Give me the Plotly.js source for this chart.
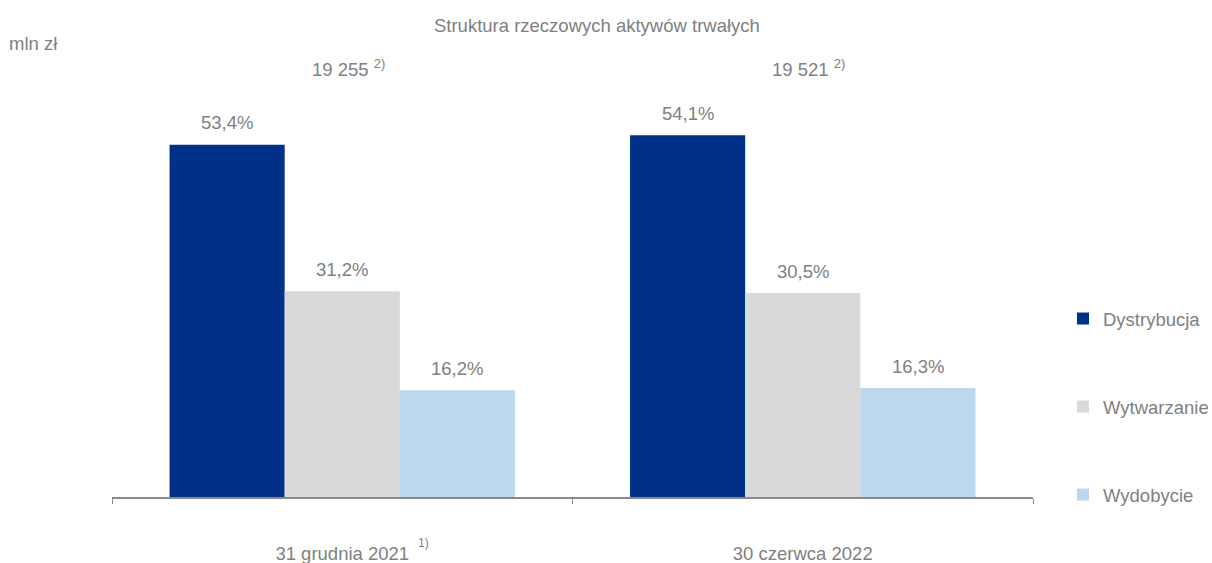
<!DOCTYPE html>
<html>
<head>
<meta charset="utf-8">
<script src="https://cdn.plot.ly/plotly-3.0.1.min.js"></script>
<style>
  html, body { margin: 0; padding: 0; background: #fff; }
  #chart { width: 1212px; height: 563px; }
</style>
</head>
<body>
<div id="chart"></div>
<script>
// Data (mln zł) and labels
const categories = ["31 grudnia 2021", "30 czerwca 2022"];
const categoryNotes = ["1)", ""];
const totals = ["19 255", "19 521"];
const seriesNames = ["Dystrybucja", "Wytwarzanie", "Wydobycie"];
const dystrybucja = [10282, 10561];
const wytwarzanie = [6008, 5954];
const wydobycie = [3119, 3182];
const pctDystrybucja = ["53,4%", "54,1%"];
const pctWytwarzanie = ["31,2%", "30,5%"];
const pctWydobycie = ["16,2%", "16,3%"];

const colors = ["#003087", "#D9D9D9", "#BDD7EE"];
const textColor = "#808080";
const FONT = "Liberation Sans, Arial, sans-serif";
const FS = 18.5;

const values = [dystrybucja, wytwarzanie, wydobycie];
const pcts = [pctDystrybucja, pctWytwarzanie, pctWydobycie];

const traces = seriesNames.map((name, i) => ({
  type: "bar",
  name: name,
  x: categories,
  y: values[i],
  marker: { color: colors[i], line: { width: 0 } },
  legendgroup: "g" + i,
  hoverinfo: "skip"
}));

const annotations = [];
const offsets = [-0.25, 0, 0.25];
categories.forEach((c, ci) => {
  values.forEach((vals, si) => {
    annotations.push({
      xref: "x", yref: "y",
      x: ci + offsets[si], y: vals[ci],
      text: pcts[si][ci],
      showarrow: false,
      yanchor: "middle",
      yshift: 22,
      font: { family: FONT, size: FS, color: textColor }
    });
  });
  annotations.push({
    xref: "x", yref: "paper",
    x: ci, y: 1.0,
    text: totals[ci] + " <sup>2)</sup>",
    showarrow: false,
    yanchor: "middle",
    xshift: 6,
    yshift: 18,
    font: { family: FONT, size: FS, color: textColor }
  });
  if (categoryNotes[ci]) {
    annotations.push({
      xref: "x", yref: "paper",
      x: ci, y: 0,
      text: categoryNotes[ci],
      showarrow: false,
      xanchor: "center", yanchor: "middle",
      xshift: 81, yshift: -46,
      font: { family: FONT, size: 12, color: textColor }
    });
  }
});
annotations.push({
  xref: "paper", yref: "paper",
  x: (7 - 112) / 921, y: 1 + (86 - 43) / 411, xanchor: "left", yanchor: "middle",
  text: "mln zł",
  showarrow: false,
  font: { family: FONT, size: FS, color: textColor }
});

const layout = {
  width: 1212, height: 563,
  paper_bgcolor: "#fff", plot_bgcolor: "#fff",
  margin: { l: 112, r: 179, t: 86, b: 66 },
  title: {
    text: "Struktura rzeczowych aktywów trwałych",
    x: 0.4925, xanchor: "center", y: 0.955, yanchor: "middle",
    font: { family: FONT, size: FS, color: textColor }
  },
  barmode: "group",
  bargap: 0.25, bargroupgap: 0,
  xaxis: {
    type: "category",
    showline: true, linecolor: "#898989", linewidth: 1.5,
    ticks: "outside", tickson: "boundaries", ticklen: 5, tickcolor: "#898989", tickwidth: 1,
    ticklabelstandoff: 39,
    tickfont: { family: FONT, size: FS, color: textColor },
    showgrid: false, zeroline: false, fixedrange: true
  },
  yaxis: {
    range: [0, 12000], visible: false, showgrid: false, zeroline: false, fixedrange: true
  },
  showlegend: true,
  legend: {
    xref: "container", yref: "container",
    x: 1063 / 1212, xanchor: "left", y: 1 - 300 / 563, yanchor: "top",
    traceorder: "grouped", tracegroupgap: 61,
    itemwidth: 30,
    font: { family: FONT, size: FS, color: textColor },
    bgcolor: "rgba(0,0,0,0)"
  },
  annotations: annotations
};

Plotly.newPlot("chart", traces, layout, { displayModeBar: false, staticPlot: true });
</script>
</body>
</html>
